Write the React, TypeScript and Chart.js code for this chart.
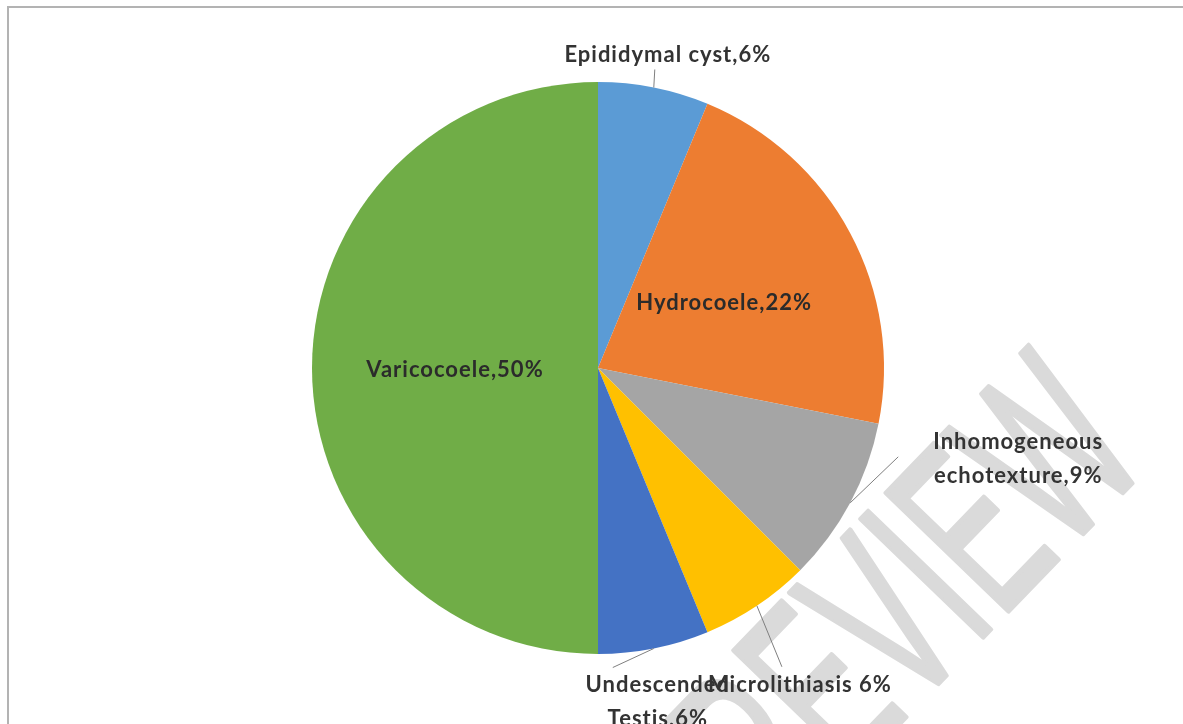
import React, { useEffect, useRef } from "react";
import { Chart, registerables } from "chart.js";

Chart.register(...registerables);

// ---- data ----
const categories = [
  "Epididymal cyst",
  "Hydrocoele",
  "Inhomogeneous echotexture",
  "Microlithiasis",
  "Undescended Testis",
  "Varicocoele",
];
const shares = [6.25, 21.875, 9.375, 6.25, 6.25, 50];
const labelLines = [
  ["Epididymal cyst,6%"],
  ["Hydrocoele,22%"],
  ["Inhomogeneous", "echotexture,9%"],
  ["Microlithiasis 6%"],
  ["Undescended", "Testis,6%"],
  ["Varicocoele,50%"],
];
const sliceColors = ["#5B9BD5", "#ED7D31", "#A5A5A5", "#FFC000", "#4472C4", "#70AD47"];
const watermarkText = "REVIEW";

// ---- label placement (relative to slice edge / mid point) ----
type Place =
  | { kind: "in"; dy: number }
  | { kind: "out"; line: [number, number]; text: [number, number] };
const placements: Place[] = [
  { kind: "out", line: [1, -18], text: [14, -25] },
  { kind: "in", dy: 9 },
  { kind: "out", line: [48, -46], text: [168, -54] },
  { kind: "out", line: [25, 61], text: [43, 86] },
  { kind: "out", line: [-41, 19], text: [4, 43] },
  { kind: "in", dy: 9 },
];
const drawOrder = [0, 1, 2, 4, 3, 5];
const FONT = 'bold 22px Lato, "Liberation Sans", sans-serif';
const LINE_H = 34;

const framePlugin = {
  id: "frame",
  beforeDraw(chart: any) {
    const ctx = chart.ctx;
    ctx.save();
    ctx.fillStyle = "#ffffff";
    ctx.fillRect(0, 0, chart.width, chart.height);
    ctx.strokeStyle = "#b3b3b3";
    ctx.lineWidth = 2;
    ctx.strokeRect(8, 7, chart.width + 20, chart.height + 20);
    ctx.restore();
  },
  beforeDatasetsDraw(chart: any) {
    // faint condensed watermark, anchored at the top-left of its "W"
    const ctx = chart.ctx;
    ctx.save();
    ctx.translate(941, 436);
    ctx.rotate((-46 * Math.PI) / 180);
    ctx.scale(0.55, 1);
    ctx.font = '247px "Liberation Sans", sans-serif';
    ctx.textAlign = "left";
    ctx.textBaseline = "alphabetic";
    const wM = ctx.measureText("W");
    const cap = ctx.measureText("E").actualBoundingBoxAscent;
    const x0 = -ctx.measureText(watermarkText.slice(0, 5)).width + wM.actualBoundingBoxLeft;
    ctx.fillStyle = "#dadada";
    ctx.strokeStyle = "#dadada";
    ctx.lineWidth = 5;
    ctx.lineJoin = "round";
    ctx.fillText(watermarkText, x0, cap);
    ctx.strokeText(watermarkText, x0, cap);
    ctx.restore();
  },
};

const labelPlugin = {
  id: "sliceLabels",
  afterDatasetsDraw(chart: any) {
    const ctx = chart.ctx;
    const meta = chart.getDatasetMeta(0);
    ctx.save();
    ctx.font = FONT;
    (ctx as any).letterSpacing = "1px";
    ctx.textAlign = "center";
    ctx.textBaseline = "alphabetic";
    for (const i of drawOrder) {
      const arc = meta.data[i];
      if (!arc) continue;
      const p = arc.getProps(["x", "y", "startAngle", "endAngle", "outerRadius"], true);
      const mid = (p.startAngle + p.endAngle) / 2;
      const pl = placements[i];
      const lines = labelLines[i];
      if (pl.kind === "in") {
        const r = p.outerRadius * 0.5;
        const tx = p.x + Math.cos(mid) * r;
        const ty = p.y + Math.sin(mid) * r + pl.dy;
        ctx.fillStyle = "#2b2b2b";
        lines.forEach((s, k) => ctx.fillText(s, tx, ty + k * LINE_H));
      } else {
        const ex = p.x + Math.cos(mid) * p.outerRadius;
        const ey = p.y + Math.sin(mid) * p.outerRadius;
        ctx.strokeStyle = "#7f7f7f";
        ctx.lineWidth = 1;
        ctx.beginPath();
        ctx.moveTo(ex, ey);
        ctx.lineTo(ex + pl.line[0], ey + pl.line[1]);
        ctx.stroke();
        ctx.fillStyle = "#333333";
        lines.forEach((s, k) =>
          ctx.fillText(s, ex + pl.text[0], ey + pl.text[1] + k * LINE_H)
        );
      }
    }
    ctx.restore();
  },
};

export default function App() {
  const ref = useRef<HTMLCanvasElement>(null);
  useEffect(() => {
    if (!ref.current) return;
    const chart = new Chart(ref.current, {
      type: "pie",
      data: {
        labels: categories,
        datasets: [
          {
            data: shares,
            backgroundColor: sliceColors,
            borderWidth: 0,
          },
        ],
      },
      options: {
        responsive: false,
        animation: false,
        devicePixelRatio: 1,
        layout: { padding: { left: 312, right: 299, top: 82, bottom: 70 } },
        plugins: {
          legend: { display: false },
          tooltip: { enabled: false },
        },
      },
      plugins: [framePlugin, labelPlugin],
    });
    return () => chart.destroy();
  }, []);
  return (
    <div style={{ position: "fixed", left: 0, top: 0, width: 1183, height: 724 }}>
      <canvas ref={ref} width={1183} height={724} />
    </div>
  );
}
